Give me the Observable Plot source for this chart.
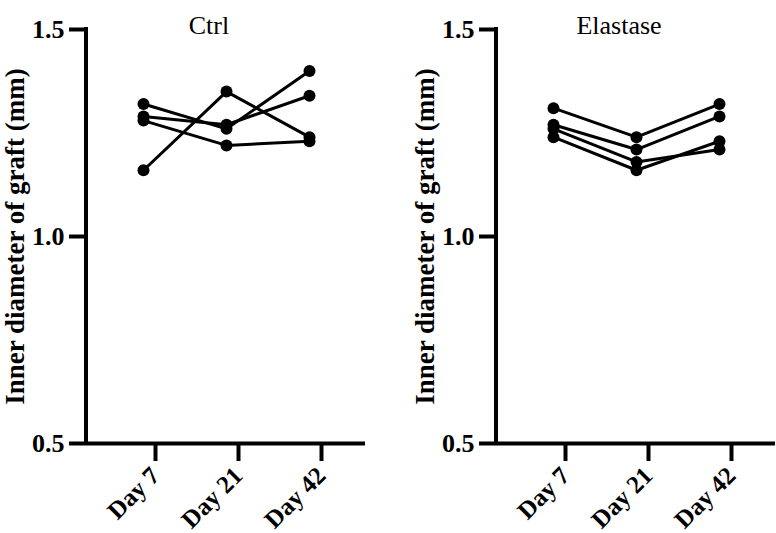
<!DOCTYPE html>
<html>
<head>
<meta charset="utf-8">
<script src="https://cdn.jsdelivr.net/npm/d3@7"></script>
<script src="https://cdn.jsdelivr.net/npm/@observablehq/plot@0.6"></script>
<style>
  html, body { margin: 0; padding: 0; background: #fff; }
  #wrap { display: flex; flex-direction: row; width: 776px; height: 533px; overflow: hidden; }
  #wrap svg { font-family: "Liberation Serif", "DejaVu Serif", serif !important; }
  #wrap g[aria-label="y-axis tick label"] { font-size: 26px; font-weight: bold; }
  #wrap g[aria-label="x-axis tick label"] { font-size: 25px; font-weight: bold; }
</style>
</head>
<body>
<div id="wrap"></div>
<script>
// ---- data ----
const days = ["Day 7", "Day 21", "Day 42"];
const yTicks = [0.5, 1.0, 1.5];
const yLabel = "Inner diameter of graft (mm)";

const ctrlTitle = "Ctrl";
const ctrlA = [1.32, 1.26, 1.40];
const ctrlB = [1.29, 1.27, 1.34];
const ctrlC = [1.28, 1.22, 1.23];
const ctrlD = [1.16, 1.35, 1.24];

const elaTitle = "Elastase";
const elaA = [1.31, 1.24, 1.32];
const elaB = [1.27, 1.21, 1.29];
const elaC = [1.26, 1.18, 1.21];
const elaD = [1.24, 1.16, 1.23];

function toRows(seriesList) {
  const rows = [];
  seriesList.forEach((s, i) => s.forEach((v, j) => rows.push({id: i, day: days[j], value: v})));
  return rows;
}

function yAxisLine(index, scales, values, dims) {
  const ns = "http://www.w3.org/2000/svg";
  const l = document.createElementNS(ns, "line");
  const x = dims.marginLeft;
  l.setAttribute("x1", x); l.setAttribute("x2", x);
  l.setAttribute("y1", scales.y(1.5) - 2); l.setAttribute("y2", scales.y(0.5) + 2);
  l.setAttribute("stroke", "black"); l.setAttribute("stroke-width", 4);
  return l;
}

function panel(title, seriesList, width, marginRight) {
  const rows = toRows(seriesList);
  return Plot.plot({
    width, height: 533,
    marginLeft: 86, marginRight, marginTop: 29, marginBottom: 90,
    style: {fontFamily: "Liberation Serif", fontSize: "24px", color: "black"},
    x: {type: "point", domain: days, padding: 0.68},
    y: {domain: [0.5, 1.5]},
    marks: [
      Plot.ruleY([0.5], {stroke: "black", strokeWidth: 4}),
      yAxisLine,
      Plot.axisY({ticks: yTicks, tickFormat: d3.format(".1f"), tickSize: 17, tickPadding: 5,
        strokeWidth: 4, fontSize: 26, fontWeight: "bold", fill: "black", label: null}),
      Plot.axisX({tickSize: 18, tickPadding: 10, tickRotate: -45, strokeWidth: 4,
        fontSize: 25, fontWeight: "bold", fill: "black", label: null, dx: 12}),
      Plot.text([yLabel], {frameAnchor: "left", textAnchor: "middle", dx: -71, rotate: -90, fontSize: 27,
        fontWeight: "bold", fill: "black"}),
      Plot.text([title], {frameAnchor: "top", dy: -14, dx: -17, fontSize: 26, fill: "black"}),
      Plot.line(rows, {x: "day", y: "value", z: "id", stroke: "black", strokeWidth: 3}),
      Plot.dot(rows, {x: "day", y: "value", r: 6, fill: "black", stroke: null})
    ]
  });
}

const wrap = document.getElementById("wrap");
wrap.append(panel(ctrlTitle, [ctrlA, ctrlB, ctrlC, ctrlD], 410, 45));
wrap.append(panel(elaTitle, [elaA, elaB, elaC, elaD], 366, 1));
</script>
</body>
</html>
